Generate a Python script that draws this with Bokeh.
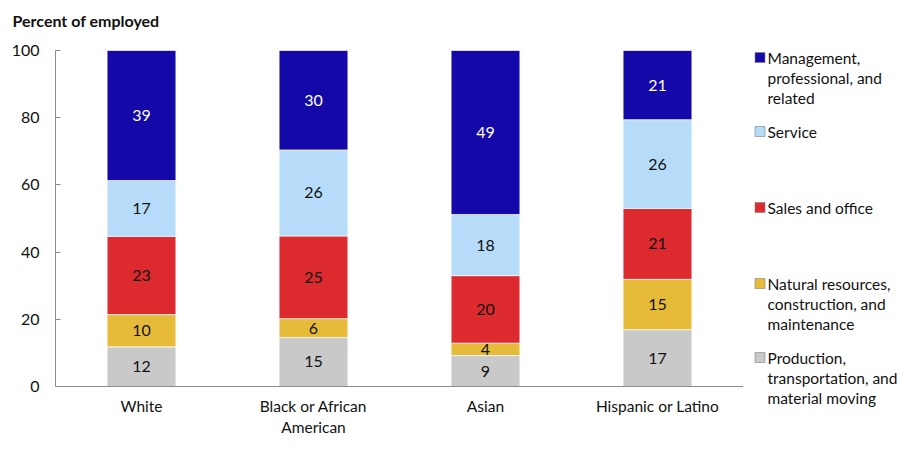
import numpy as np
from bokeh.plotting import figure
from bokeh.models import ColumnDataSource, FactorRange, Range1d, FixedTicker
from bokeh.layouts import row, column
from bokeh.core.properties import value
from bokeh.embed import file_html
from bokeh.resources import INLINE

# ---------------- data ----------------
categories = ["White", "Black or African\nAmerican", "Asian", "Hispanic or Latino"]
title_text = "Percent of employed"
production = [11.8, 14.6, 9.2, 16.9]
natural = [9.6, 5.6, 3.7, 15.0]
sales = [23.3, 24.6, 20.1, 21.1]
service = [16.6, 25.6, 18.2, 26.4]
management = [38.7, 29.6, 48.8, 20.6]
y_ticks = [0, 20, 40, 60, 80, 100]
legend_lines = [
    ["Management,", "professional, and", "related"],
    ["Service"],
    ["Sales and office"],
    ["Natural resources,", "construction, and", "maintenance"],
    ["Production,", "transportation, and", "material moving"],
]

# ---------------- style ----------------
keys = ["production", "natural", "sales", "service", "management"]
colors = ["#c9c9c9", "#e6bb3a", "#dc2a2e", "#b7dcfa", "#1408a8"]
label_colors = ["#111111", "#111111", "#111111", "#111111", "#ffffff"]
FONT = "Lato"

W, H = 901, 439
TITLE_H = 40
MAIN_W = 743
LEG_W = W - MAIN_W
BODY_H = H - TITLE_H


def bare(fig):
    fig.outline_line_color = None
    fig.xgrid.grid_line_color = None
    fig.ygrid.grid_line_color = None
    return fig


# ---------------- title strip ----------------
tf = bare(figure(x_range=Range1d(0, MAIN_W), y_range=Range1d(TITLE_H, 0), width=MAIN_W,
                 height=TITLE_H, output_backend="svg", toolbar_location=None,
                 x_axis_location=None, y_axis_location=None,
                 min_border_left=0, min_border_right=0, min_border_top=0, min_border_bottom=0))
tf.text(x=[12], y=[20], text=[title_text], text_font=value(FONT), text_font_size="16px",
        text_font_style="bold", text_baseline="middle", text_align="left",
        text_color="#111111")

# ---------------- main chart ----------------
src = ColumnDataSource(dict(cat=categories, production=production, natural=natural,
                            sales=sales, service=service, management=management))

p = bare(figure(x_range=FactorRange(factors=categories, range_padding=0),
                y_range=Range1d(0, 100),
                width=MAIN_W, height=BODY_H, output_backend="svg", toolbar_location=None,
                min_border_left=55, min_border_right=0, min_border_top=10,
                min_border_bottom=49))

p.vbar_stack(keys, x="cat", width=0.4, color=colors, line_color="white",
             line_width=1, line_alpha=0.7, source=src)

lx, ly, lt, lc = [], [], [], []
stack = [production, natural, sales, service, management]
base = np.zeros(len(categories))
for s, col in zip(stack, label_colors):
    arr = np.array(s)
    for i, c in enumerate(categories):
        lx.append(c)
        ly.append(base[i] + arr[i] / 2)
        lt.append(f"{arr[i]:.0f}")
        lc.append(col)
    base = base + arr
lsrc = ColumnDataSource(dict(x=lx, y=ly, t=lt, c=lc))
p.text(x="x", y="y", text="t", text_color="c", source=lsrc,
       text_align="center", text_baseline="middle",
       text_font=value(FONT), text_font_size="16px")

p.yaxis.ticker = FixedTicker(ticks=y_ticks)
p.yaxis.minor_tick_line_color = None
p.yaxis.major_tick_in = 5
p.yaxis.major_tick_out = 0
p.yaxis.axis_line_color = "#8c8c8c"
p.yaxis.major_tick_line_color = "#8c8c8c"
p.yaxis.major_label_text_font = FONT
p.yaxis.major_label_text_font_size = "16px"
p.yaxis.major_label_text_color = "#111111"
p.yaxis.major_label_standoff = 16

p.xaxis.major_tick_line_color = None
p.xaxis.minor_tick_line_color = None
p.xaxis.axis_line_color = "#8c8c8c"
p.xaxis.major_label_text_font = FONT
p.xaxis.major_label_text_font_size = "15.5px"
p.xaxis.major_label_text_color = "#111111"
p.xaxis.major_label_standoff = 4

# ---------------- legend panel (coordinates = picture pixels) ----------------
leg = bare(figure(x_range=Range1d(MAIN_W, W), y_range=Range1d(H, 0),
                  width=LEG_W, height=H, output_backend="svg", toolbar_location=None,
                  x_axis_location=None, y_axis_location=None,
                  min_border_left=0, min_border_right=0, min_border_top=0,
                  min_border_bottom=0))
entry_y = [57, 131, 207, 283, 357]
leg_colors = colors[::-1]
leg.rect(x=[759.5] * 5, y=entry_y, width=10, height=10, fill_color=leg_colors,
         line_color="#808080", line_width=0.6)
tx, ty, tt = [], [], []
for ey, lines in zip(entry_y, legend_lines):
    for k, ln in enumerate(lines):
        tx.append(767)
        ty.append(ey + 20 * k)
        tt.append(ln)
leg.text(x=tx, y=ty, text=tt, text_font=value(FONT), text_font_size="15.5px",
         text_baseline="middle", text_align="left", text_color="#111111")

# nesting p in its own row keeps the title strip's frame independent of p's frame
layout = row(column(tf, row(p)), leg)
open("out.html", "w").write(file_html(layout, INLINE))
